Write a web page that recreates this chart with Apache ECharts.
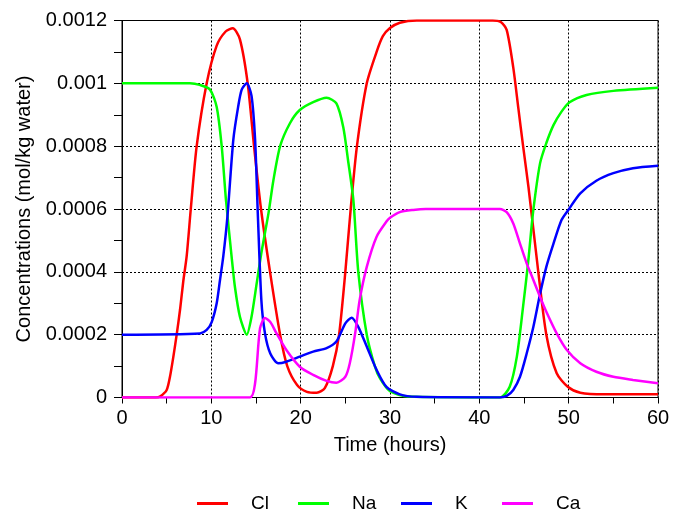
<!DOCTYPE html>
<html><head><meta charset="utf-8">
<script src="https://cdn.jsdelivr.net/npm/echarts@6/dist/echarts.min.js"></script>
<style>html,body{margin:0;padding:0;background:#fff}#c{width:673px;height:511px}</style>
</head><body><div id="c"></div>
<script>
const seriesNames = ['Cl', 'Na', 'K', 'Ca'];
const xTicks = [0, 10, 20, 30, 40, 50, 60];
const yTicks = [0, 0.0002, 0.0004, 0.0006, 0.0008, 0.001, 0.0012];

const clTime = [0, 3.8, 4.25, 5.0, 5.37, 5.75, 6.12, 6.5, 6.86, 7.24, 7.7, 8.36, 9.48, 10.6, 11.6, 12.4, 13.2, 14.07, 14.78, 15.56, 16.57, 17.7, 18.5, 19.6, 20.7, 21.8, 22.7, 23.6, 24.3, 25.0, 25.6, 26.3, 27.4, 28.5, 29.2, 30.0, 31.1, 33, 41.5, 42.4, 43.06, 43.8, 44.37, 44.9, 45.5, 46.6, 47.5, 48.66, 49.9, 51.3, 54, 60];
const clVal = [0, 0, 0.000003, 0.000024, 0.000066, 0.00013, 0.0002, 0.00028, 0.00037, 0.00045, 0.0006, 0.0008, 0.001, 0.00112, 0.001165, 0.001175, 0.00114, 0.001, 0.0008, 0.0006, 0.0004, 0.0002, 0.0001, 0.00004, 0.000018, 0.000015, 0.00003, 0.0001, 0.0002, 0.0004, 0.0006, 0.0008, 0.001, 0.0011, 0.00115, 0.001176, 0.001193, 0.0012, 0.0012, 0.001195, 0.00117, 0.00105, 0.00092, 0.0008, 0.00067, 0.0004, 0.0002, 0.000077, 0.000034, 0.000015, 0.00001, 0.00001];

const naTime = [0, 7.6, 8.7, 9.85, 10.6, 11.16, 11.64, 12.3, 12.65, 13.2, 13.96, 14.5, 15.08, 15.6, 16.4, 16.94, 17.7, 18.8, 19.9, 21.4, 22.9, 24.0, 24.77, 25.3, 25.9, 26.45, 27.4, 28.3, 28.9, 30.0, 32, 42.3, 43.4, 44.2, 44.9, 45.5, 46.0, 46.8, 47.5, 48.3, 49.2, 50.1, 52.0, 55, 60];
const naVal = [0.001, 0.001, 0.000995, 0.00098, 0.000925, 0.0008, 0.000628, 0.00044, 0.00035, 0.000257, 0.0002, 0.000257, 0.000364, 0.00046, 0.000587, 0.00069, 0.0008, 0.000873, 0.000915, 0.00094, 0.000954, 0.000936, 0.00086, 0.000756, 0.000628, 0.0004, 0.0002, 0.0001, 0.00006, 0.00002, 0.000003, 0, 0.000034, 0.00013, 0.00029, 0.00044, 0.000586, 0.000746, 0.00081, 0.000867, 0.00091, 0.00094, 0.000963, 0.000976, 0.000986];

const kTime = [0, 8.73, 9.48, 10.04, 10.6, 10.97, 11.34, 11.8, 12.46, 13.0, 13.4, 13.96, 14.5, 14.9, 15.2, 15.6, 16.0, 16.6, 17.5, 18.4, 19.9, 21.4, 22.9, 24.0, 25.0, 25.7, 26.45, 27.4, 28.5, 29.6, 31.1, 33, 42.3, 43.06, 43.8, 44.55, 45.3, 46.05, 46.8, 47.5, 48.3, 49.2, 49.96, 51.3, 53.1, 55, 57.2, 60];
const kVal = [0.0002, 0.000204, 0.000215, 0.00024, 0.0003, 0.000374, 0.00045, 0.000575, 0.00082, 0.000925, 0.00098, 0.001, 0.00096, 0.00082, 0.000587, 0.00031, 0.000205, 0.00014, 0.000109, 0.000114, 0.00013, 0.000146, 0.000157, 0.000178, 0.000236, 0.000254, 0.000225, 0.000162, 0.000088, 0.000034, 0.00001, 0.000002, 0, 0.000005, 0.000024, 0.000066, 0.00014, 0.000225, 0.00033, 0.000416, 0.00049, 0.000565, 0.000597, 0.00065, 0.00069, 0.000714, 0.00073, 0.000738];

const caTime = [0, 14.33, 14.9, 15.45, 16.0, 16.6, 17.3, 18.4, 19.9, 21.4, 22.9, 24.0, 25.0, 25.5, 26.1, 26.6, 27.4, 28.5, 29.6, 30.0, 31.1, 32.6, 34, 42.3, 43.06, 43.8, 44.55, 45.3, 46.05, 46.8, 47.5, 48.66, 49.8, 51.3, 53.1, 55, 57.2, 60];
const caVal = [0, 0, 0.000046, 0.00022, 0.000253, 0.00024, 0.000204, 0.000151, 0.000098, 0.000072, 0.000053, 0.000047, 0.000066, 0.000109, 0.000204, 0.00031, 0.000416, 0.000512, 0.00056, 0.000572, 0.00059, 0.000597, 0.0006, 0.0006, 0.00059, 0.000554, 0.00049, 0.000427, 0.000374, 0.00032, 0.000273, 0.000204, 0.000151, 0.000109, 0.000082, 0.000066, 0.000056, 0.000045];

const colors = ['#ff0000', '#00ff00', '#0000ff', '#ff00ff'];
const times = [clTime, naTime, kTime, caTime];
const vals = [clVal, naVal, kVal, caVal];
const legendLeft = [192, 293, 396, 497];

const font = 'Liberation Sans, Arial, sans-serif';
const chart = echarts.init(document.getElementById('c'));
chart.setOption({
  animation: false,
  backgroundColor: '#fff',
  grid: { left: 122, right: 15, top: 20.5, bottom: 113.5, show: true, borderColor: '#000', borderWidth: 1, containLabel: false },
  legend: seriesNames.map((n, i) => ({
    top: 489, left: legendLeft[i], itemWidth: 31, itemHeight: 3,
    icon: 'rect',
    data: [n],
    textStyle: { fontFamily: font, fontSize: 19, color: '#000', padding: [0, 0, 0, 18] }
  })),
  xAxis: {
    type: 'value', min: 0, max: 60, interval: 10,
    name: 'Time (hours)', nameLocation: 'middle', nameGap: 38,
    nameTextStyle: { fontFamily: font, fontSize: 20, color: '#000' },
    axisLine: { lineStyle: { color: '#000', width: 1 } },
    axisTick: { show: true, length: 6, lineStyle: { color: '#000' } },
    minorTick: { show: true, splitNumber: 2, length: 6, lineStyle: { color: '#000' } },
    axisLabel: { fontFamily: font, fontSize: 20, color: '#000', margin: 11, formatter: v => xTicks.includes(v) ? String(v) : '' },
    splitLine: { show: true, lineStyle: { color: '#000', type: [2, 2], width: 1 } }
  },
  yAxis: {
    type: 'value', min: 0, max: 0.0012, interval: 0.0002,
    name: 'Concentrations (mol/kg water)', nameLocation: 'middle', nameGap: 88,
    nameTextStyle: { fontFamily: font, fontSize: 20, color: '#000' },
    axisLine: { show: true, lineStyle: { color: '#000', width: 1 } },
    axisTick: { show: true, length: 8, lineStyle: { color: '#000' } },
    minorTick: { show: true, splitNumber: 2, length: 8, lineStyle: { color: '#000' } },
    axisLabel: { fontFamily: font, fontSize: 20, color: '#000', margin: 15,
      formatter: v => { const t = yTicks.find(a => Math.abs(a - v) < 1e-9); return t === undefined ? '' : (t === 0 ? '0' : String(+t.toFixed(4))); } },
    splitLine: { show: true, lineStyle: { color: '#000', type: [2, 2], width: 1 } }
  },
  series: seriesNames.map((n, i) => ({
    name: n, type: 'line', showSymbol: false, smooth: 0.25,
    lineStyle: { color: colors[i], width: 2.5 },
    itemStyle: { color: colors[i] },
    data: times[i].map((t, j) => [t, vals[i][j]])
  }))
});
</script></body></html>
